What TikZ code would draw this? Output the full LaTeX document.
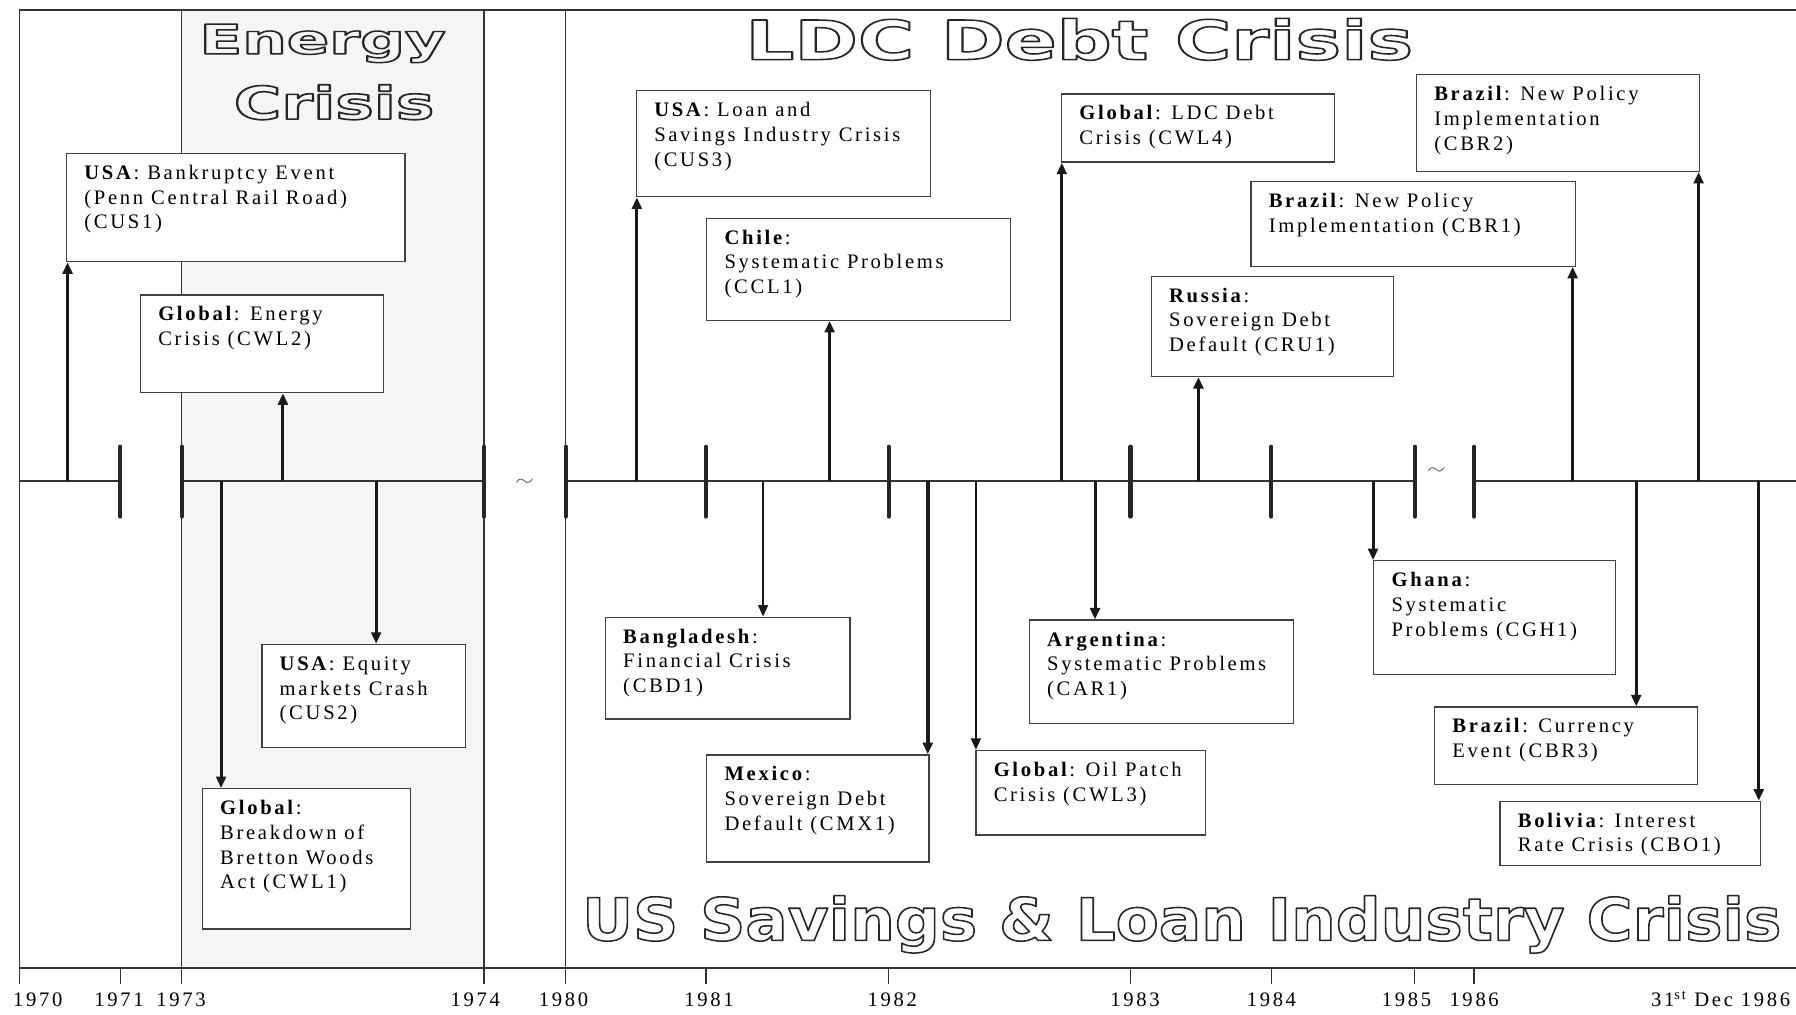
\documentclass[tikz,border=0pt]{standalone}
\usepackage{fontspec}
\usepackage{graphicx}
\setmainfont{Liberation Serif}[LetterSpace=13]
\newfontfamily\titlefont{DejaVu Sans}
\usetikzlibrary{arrows.meta}

% hollow (stroked) lettering for the period titles
\newcommand\hollow[1]{%
  \special{pdf:literal direct 0.15 G 1 Tr 1.3 w 1 j}#1\special{pdf:literal direct 0 Tr}}
% framed event box with its caption set from the top left corner
\newcommand\evtbox[6]{%
  \node[evbox, minimum width={(#4-#2)*1pt}, minimum height={(#5-#3)*1pt}] (#1) at (#2,#3) {};
  \node[evtext] (#1-text) at (#1.north west) {\rule{0pt}{13pt}#6};
}

\tikzset{
  band/.style={fill=black!4},
  frame/.style={draw=black!80, line width=1.2pt},
  axisline/.style={draw=black!80, line width=1.5pt},
  yeartick/.style={draw=black!85, line width=3.6pt, line cap=round},
  evbox/.style={draw=black!75, line width=1.2pt, fill=white, inner sep=0pt, anchor=north west},
  evtext/.style={anchor=north west, inner sep=0pt, align=left,
    font=\fontsize{18}{21.6}\selectfont, xshift=16pt, yshift=-10pt},
  evarrow/.style={draw=black!90, line width=2.6pt, -{Triangle[length=10pt,width=8.5pt]}},
  thinarrow/.style={evarrow, line width=2pt},
  heavyarrow/.style={evarrow, line width=3.8pt},
  yearlab/.style={anchor=base, inner sep=0pt, font=\fontsize{18}{20}\selectfont},
  ttl/.style={anchor=base west, inner sep=0pt},
  squiggle/.style={draw=black!55, line width=0.9pt},
}

\begin{document}
\begin{tikzpicture}[x=1pt,y=-1pt]
\useasboundingbox (0,0) rectangle (1568,886);
\fill[white] (0,0) rectangle (1568,886);

% energy crisis period
\fill[band] (158.6,8.7) rectangle (422.6,845);

% outer frame, period separators and lower scale
\draw[frame] (17,8.7) -- (1568,8.7);
\draw[frame] (17,845) -- (1568,845);
\foreach \x in {17,158.6,422.6,493.8} \draw[frame] (\x,8.7) -- (\x,859);
\foreach \x in {105,616.4,775.8,987,1110,1235,1287} \draw[frame] (\x,845) -- (\x,859);

% time line with its breaks
\draw[axisline] (17,420) -- (105,420) (158.6,420) -- (422.6,420)
  (493.8,420) -- (1235,420) (1287,420) -- (1568,420);
\foreach \x in {105,158.6,422.6,493.8,616.4,775.8,987,1110,1235,1287}
  \draw[yeartick] (\x,390) -- (\x,451);
\draw[squiggle] (451,421) .. controls (453,417) and (456,418) .. (458,420)
  .. controls (460,422) and (462,422) .. (465,418);
\draw[squiggle] (1247,411) .. controls (1249,407) and (1252,408) .. (1254,410)
  .. controls (1256,412) and (1258,412) .. (1261,408);

% period titles
\node[ttl] (t-energy) at (174,47)
  {\resizebox{215pt}{26pt}{\titlefont\bfseries\fontsize{36}{40}\selectfont\hollow{Energy}}};
\node[ttl] (t-ecrisis) at (204,104)
  {\resizebox{175pt}{30pt}{\titlefont\bfseries\fontsize{36}{40}\selectfont\hollow{Crisis}}};
\node[ttl] (t-ldc) at (650.6,52)
  {\resizebox{583pt}{36pt}{\titlefont\bfseries\fontsize{46}{50}\selectfont\hollow{LDC Debt Crisis}}};
\node[ttl] (t-sl) at (508,821)
  {\resizebox{1047pt}{39pt}{\titlefont\bfseries\fontsize{50}{54}\selectfont\hollow{US Savings \& Loan Industry Crisis}}};

% event boxes
\evtbox{cus1}{57.5}{133.4}{353}{227.8}{\textbf{USA}: Bankruptcy Event\\(Penn Central Rail Road)\\(CUS1)}
\evtbox{cwl2}{122}{256.9}{334}{342.2}{\textbf{Global}: Energy\\Crisis (CWL2)}
\evtbox{cwl1}{176}{688}{358}{810.5}{\textbf{Global}:\\Breakdown of\\Bretton Woods\\Act (CWL1)}
\evtbox{cus2}{228}{562}{406}{652}{\textbf{USA}: Equity\\markets Crash\\(CUS2)}
\evtbox{cus3}{555}{78.6}{811.6}{171.2}{\textbf{USA}: Loan and\\Savings Industry Crisis\\(CUS3)}
\evtbox{ccl1}{616.4}{189.9}{881.8}{279}{\textbf{Chile}:\\Systematic Problems\\(CCL1)}
\evtbox{cbd1}{527.9}{538.3}{741.5}{627}{\textbf{Bangladesh}:\\Financial Crisis\\(CBD1)}
\evtbox{cmx1}{616.4}{658.4}{810.5}{751.9}{\textbf{Mexico}:\\Sovereign Debt\\Default (CMX1)}
\evtbox{cwl3}{851.4}{654.6}{1052}{728.4}{\textbf{Global}: Oil Patch\\Crisis (CWL3)}
\evtbox{cwl4}{926.2}{81.5}{1164.5}{140.9}{\textbf{Global}: LDC Debt\\Crisis (CWL4)}
\evtbox{car1}{898}{540.8}{1128.9}{630.8}{\textbf{Argentina}:\\Systematic Problems\\(CAR1)}
\evtbox{cru1}{1004.5}{240.6}{1216}{328}{\textbf{Russia}:\\Sovereign Debt\\Default (CRU1)}
\evtbox{cgh1}{1198.7}{489}{1410}{588.5}{\textbf{Ghana}:\\Systematic\\Problems (CGH1)}
\evtbox{cbr1}{1091.5}{158}{1374.6}{231.8}{\textbf{Brazil}: New Policy\\Implementation (CBR1)}
\evtbox{cbr2}{1236}{64.6}{1483}{149}{\textbf{Brazil}: New Policy\\Implementation\\(CBR2)}
\evtbox{cbr3}{1251.8}{616.7}{1481.4}{684.4}{\textbf{Brazil}: Currency\\Event (CBR3)}
\evtbox{cbo1}{1309}{699}{1536.5}{755}{\textbf{Bolivia}: Interest\\Rate Crisis (CBO1)}

% event dates on the time line
\coordinate (d-cus1) at (59,420);
\coordinate (d-cwl2) at (247,420);
\coordinate (d-cwl1) at (193,420);
\coordinate (d-cus2) at (328.4,420);
\coordinate (d-cus3) at (556,420);
\coordinate (d-ccl1) at (724.3,420);
\coordinate (d-cbd1) at (666.2,420);
\coordinate (d-cmx1) at (810,420);
\coordinate (d-cwl3) at (852,420);
\coordinate (d-cwl4) at (927,420);
\coordinate (d-car1) at (956,420);
\coordinate (d-cru1) at (1046.3,420);
\coordinate (d-cgh1) at (1198.7,420);
\coordinate (d-cbr1) at (1373,420);
\coordinate (d-cbr2) at (1483,420);
\coordinate (d-cbr3) at (1428.5,420);
\coordinate (d-cbo1) at (1535.5,420);

% arrows up to the events above the line
\foreach \e in {cus1,cwl2,cus3,ccl1,cwl4,cru1,cbr1,cbr2}
  \draw[evarrow] (d-\e) -- (d-\e |- \e.south);
% arrows down to the events below the line
\foreach \e in {cwl1,cus2,car1,cgh1,cbr3,cbo1}
  \draw[evarrow] (d-\e) -- (d-\e |- \e.north);
\draw[thinarrow] (d-cbd1) -- (d-cbd1 |- cbd1.north);
\draw[thinarrow] (d-cwl3) -- (d-cwl3 |- cwl3.north);
\draw[heavyarrow] (d-cmx1) -- (d-cmx1 |- cmx1.north);

% year labels
\node[yearlab] (y1970) at (33,879) {1970};
\node[yearlab] (y1971) at (104,879) {1971};
\node[yearlab] (y1973) at (158,879) {1973};
\node[yearlab] (y1974) at (415,879) {1974};
\node[yearlab] (y1980) at (492,879) {1980};
\node[yearlab] (y1981) at (619,879) {1981};
\node[yearlab] (y1982) at (779,879) {1982};
\node[yearlab] (y1983) at (991,879) {1983};
\node[yearlab] (y1984) at (1110,879) {1984};
\node[yearlab] (y1985) at (1228,879) {1985};
\node[yearlab] (y1986) at (1287,879) {1986};
\node[yearlab, anchor=base east] (yend) at (1563,879) {31\textsuperscript{st} Dec 1986};
\end{tikzpicture}
\end{document}
